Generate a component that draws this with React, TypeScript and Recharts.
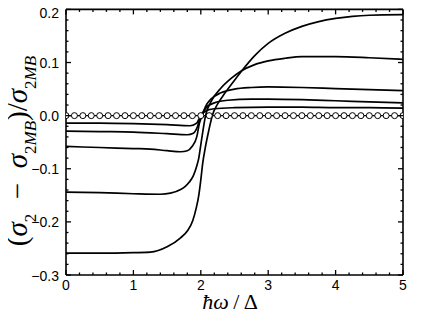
import React from 'react';
import { LineChart, Line, XAxis, YAxis } from 'recharts';

// ---- data ----
const xA = [0, 0.5, 1.0, 1.25, 1.5, 1.7, 1.8, 1.88, 1.93, 1.97, 2.0, 2.03, 2.07, 2.12, 2.17, 2.25, 2.35, 2.45, 2.6, 2.8, 3.0, 3.25, 3.5, 3.75, 4.0, 4.25, 4.5, 5.0];
const yA = [-0.259, -0.259, -0.258, -0.257, -0.247, -0.230, -0.217, -0.198, -0.175, -0.150, -0.121, -0.088, -0.058, -0.027, 0.0, 0.022, 0.041, 0.058, 0.083, 0.113, 0.136, 0.155, 0.168, 0.177, 0.183, 0.187, 0.189, 0.190];

const xB = [0, 0.5, 1.0, 1.4, 1.55, 1.7, 1.77, 1.83, 1.89, 1.94, 1.97, 2.0, 2.03, 2.07, 2.15, 2.3, 2.45, 2.6, 2.8, 3.0, 3.25, 3.5, 4.0, 4.5, 5.0];
const yB = [-0.144, -0.145, -0.147, -0.148, -0.146, -0.139, -0.133, -0.125, -0.113, -0.095, -0.080, -0.055, -0.030, 0.0, 0.026, 0.052, 0.070, 0.084, 0.096, 0.103, 0.108, 0.111, 0.111, 0.109, 0.106];

const xC = [0, 0.5, 1.0, 1.25, 1.5, 1.7, 1.8, 1.87, 1.94, 1.98, 2.02, 2.07, 2.15, 2.3, 2.5, 2.75, 3.0, 3.5, 4.0, 4.5, 5.0];
const yC = [-0.058, -0.060, -0.062, -0.063, -0.066, -0.068, -0.066, -0.058, -0.040, -0.014, 0.0, 0.017, 0.031, 0.043, 0.050, 0.053, 0.054, 0.053, 0.051, 0.049, 0.047];

const xD = [0, 0.5, 1.0, 1.5, 1.8, 1.89, 1.95, 1.99, 2.02, 2.08, 2.2, 2.4, 2.75, 3.0, 3.5, 4.0, 4.5, 5.0];
const yD = [-0.029, -0.030, -0.031, -0.034, -0.036, -0.033, -0.021, -0.005, 0.004, 0.015, 0.024, 0.029, 0.031, 0.031, 0.030, 0.028, 0.026, 0.024];

const xE = [0, 0.5, 1.0, 1.5, 1.84, 1.94, 1.98, 2.02, 2.08, 2.2, 2.5, 3.0, 3.5, 4.0, 4.5, 5.0];
const yE = [-0.014, -0.014, -0.015, -0.017, -0.019, -0.014, -0.005, 0.003, 0.009, 0.013, 0.015, 0.016, 0.016, 0.015, 0.015, 0.014];

const xMB = [0, 0.125, 0.25, 0.375, 0.5, 0.625, 0.75, 0.875, 1.0, 1.125, 1.25, 1.375, 1.5, 1.625, 1.75, 1.875, 2.0, 2.125, 2.25, 2.375, 2.5, 2.625, 2.75, 2.875, 3.0, 3.125, 3.25, 3.375, 3.5, 3.625, 3.75, 3.875, 4.0, 4.125, 4.25, 4.375, 4.5, 4.625, 4.75, 4.875, 5.0];
const yMB = [0, 0, 0, 0, 0, 0, 0, 0, 0, 0, 0, 0, 0, 0, 0, 0, 0, 0, 0, 0, 0, 0, 0, 0, 0, 0, 0, 0, 0, 0, 0, 0, 0, 0, 0, 0, 0, 0, 0, 0, 0];

const xTicks = [0, 0.2, 0.4, 0.6, 0.8, 1, 1.2, 1.4, 1.6, 1.8, 2, 2.2, 2.4, 2.6, 2.8, 3, 3.2, 3.4, 3.6, 3.8, 4, 4.2, 4.4, 4.6, 4.8, 5];
const yTicks = [-0.3, -0.28, -0.26, -0.24, -0.22, -0.2, -0.18, -0.16, -0.14, -0.12, -0.1, -0.08, -0.06, -0.04, -0.02, 0, 0.02, 0.04, 0.06, 0.08, 0.1, 0.12, 0.14, 0.16, 0.18, 0.2];

const zip = (xs: number[], ys: number[]) => xs.map((x, i) => ({ x, y: ys[i] }));

const curves = [zip(xA, yA), zip(xB, yB), zip(xC, yC), zip(xD, yD), zip(xE, yE)];
const mbData = zip(xMB, yMB);

const FONT = '"Liberation Sans", Arial, Helvetica, sans-serif';
const SERIF = '"Liberation Serif", "Times New Roman", serif';

const isMajorX = (v: number) => Math.abs(v - Math.round(v)) < 1e-6;
const isMajorY = (v: number) => Math.abs(v * 10 - Math.round(v * 10)) < 1e-6;
const fmtY = (v: number) => v.toFixed(1).replace('-', '\u2212');

function makeTick(side: 'bottom' | 'top' | 'left' | 'right', showLabel: boolean) {
  return (props: any) => {
    const { x, y, payload } = props;
    const v = Number(payload.value);
    const horizontal = side === 'bottom' || side === 'top';
    const major = horizontal ? isMajorX(v) : isMajorY(v);
    const len = major ? 5 : 2.5;
    let x2 = x, y2 = y;
    if (side === 'bottom') y2 = y - len;
    if (side === 'top') y2 = y + len;
    if (side === 'left') x2 = x + len;
    if (side === 'right') x2 = x - len;
    // the topmost / bottommost y labels sit slightly below their tick, as in the reference
    const yShift = v > 0.19 ? 9 : v < -0.29 ? 6 : 5;
    return (
      <g>
        <line x1={x} y1={y} x2={x2} y2={y2} stroke="#000" strokeWidth={1.3} />
        {showLabel && major && side === 'bottom' && (
          <text x={x} y={y + 15} textAnchor="middle" fontFamily={FONT} fontSize={14} fill="#000">
            {String(Math.round(v))}
          </text>
        )}
        {showLabel && major && side === 'left' && (
          <text x={x - 7} y={y + yShift} textAnchor="end" fontFamily={FONT} fontSize={14} fill="#000">
            {fmtY(v)}
          </text>
        )}
      </g>
    );
  };
}

export default function App() {
  const W = 436;
  const H = 328;
  return (
    <div style={{ position: 'relative', width: W, height: H, margin: '-8px 0 0 -8px' }}>
      <LineChart width={W} height={H} margin={{ top: 8.4, right: 32, bottom: 23, left: 0 }}>
        <XAxis
          xAxisId="b"
          dataKey="x"
          type="number"
          domain={[0, 5]}
          allowDataOverflow
          ticks={xTicks}
          interval={0}
          orientation="bottom"
          height={30}
          tickSize={0}
          tickMargin={0}
          tickLine={false}
          axisLine={{ stroke: '#000', strokeWidth: 1.6 }}
          tick={makeTick('bottom', true)}
        />
        <XAxis
          xAxisId="t"
          dataKey="x"
          type="number"
          domain={[0, 5]}
          allowDataOverflow
          ticks={xTicks}
          interval={0}
          orientation="top"
          height={1}
          tickSize={0}
          tickMargin={0}
          tickLine={false}
          axisLine={{ stroke: '#000', strokeWidth: 1.6 }}
          tick={makeTick('top', false)}
        />
        <YAxis
          yAxisId="l"
          type="number"
          domain={[-0.3, 0.2]}
          allowDataOverflow
          ticks={yTicks}
          interval={0}
          orientation="left"
          width={66}
          tickSize={0}
          tickMargin={0}
          tickLine={false}
          axisLine={{ stroke: '#000', strokeWidth: 1.6 }}
          tick={makeTick('left', true)}
        />
        <YAxis
          yAxisId="r"
          type="number"
          domain={[-0.3, 0.2]}
          allowDataOverflow
          ticks={yTicks}
          interval={0}
          orientation="right"
          width={1}
          tickSize={0}
          tickMargin={0}
          tickLine={false}
          axisLine={{ stroke: '#000', strokeWidth: 1.6 }}
          tick={makeTick('right', false)}
        />
        {curves.map((d, i) => (
          <Line
            key={i}
            xAxisId="b"
            yAxisId="l"
            data={d}
            dataKey="y"
            type="monotone"
            stroke="#000"
            strokeWidth={1.7}
            dot={false}
            activeDot={false}
            isAnimationActive={false}
          />
        ))}
        <Line
          xAxisId="b"
          yAxisId="l"
          data={mbData}
          dataKey="y"
          type="linear"
          stroke="#000"
          strokeWidth={1.2}
          dot={{ r: 3, fill: '#fff', stroke: '#000', strokeWidth: 1 }}
          activeDot={false}
          isAnimationActive={false}
        />
      </LineChart>
      <svg
        width={W}
        height={H}
        style={{ position: 'absolute', left: 0, top: 0, pointerEvents: 'none' }}
      >
        <text x={230} y={309} textAnchor="middle" fontFamily={SERIF} fontSize={22} fill="#000">
          <tspan fontStyle="italic">ħω</tspan>
          <tspan>{'\u2009/\u2009'}</tspan>
          <tspan>Δ</tspan>
        </text>
        <text
          transform="translate(27,151) rotate(-90)"
          textAnchor="middle"
          fontFamily={SERIF}
          fontSize={29}
          fill="#000"
        >
          <tspan>(</tspan>
          <tspan fontStyle="italic">σ</tspan>
          <tspan fontSize={17} dy={9}>2</tspan>
          <tspan dy={-9}>{'\u2002−\u2002'}</tspan>
          <tspan fontStyle="italic">σ</tspan>
          <tspan fontSize={17} dy={9}>2<tspan fontStyle="italic">MB</tspan></tspan>
          <tspan dy={-9}>)/</tspan>
          <tspan fontStyle="italic">σ</tspan>
          <tspan fontSize={17} dy={9}>2<tspan fontStyle="italic">MB</tspan></tspan>
        </text>
      </svg>
    </div>
  );
}
